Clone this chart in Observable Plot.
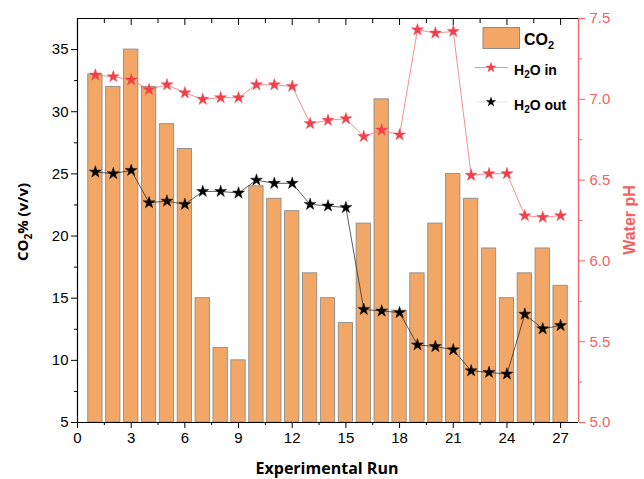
<!DOCTYPE html>
<html><head><meta charset="utf-8">
<script src="https://cdn.jsdelivr.net/npm/d3@7"></script>
<script src="https://cdn.jsdelivr.net/npm/@observablehq/plot@0.6"></script>
<style>
body{margin:0;background:#fff;}
#chart{position:relative;width:644px;height:479px;}
#chart svg{position:absolute;left:0;top:0;overflow:visible;}
</style>
</head><body><div id="chart"></div>
<script>
const runs = [1,2,3,4,5,6,7,8,9,10,11,12,13,14,15,16,17,18,19,20,21,22,23,24,25,26,27];
const co2 = [33,32,35,32,29,27,15,11,10,24,23,22,17,15,13,21,31,14,17,21,25,23,19,15,17,19,16];
const phIn = [7.15,7.14,7.12,7.06,7.09,7.04,7.00,7.01,7.01,7.09,7.09,7.08,6.85,6.87,6.88,6.77,6.81,6.78,7.43,7.41,7.42,6.53,6.54,6.54,6.28,6.27,6.28];
const phOut = [6.55,6.54,6.56,6.36,6.37,6.35,6.43,6.43,6.42,6.50,6.48,6.48,6.35,6.34,6.33,5.70,5.69,5.68,5.48,5.47,5.45,5.32,5.31,5.30,5.67,5.58,5.60];
const xTicks = [0,3,6,9,12,15,18,21,24,27];
const xMinor = [1.5,4.5,7.5,10.5,13.5,16.5,19.5,22.5,25.5];
const co2Ticks = [5,10,15,20,25,30,35];
const co2Minor = [7.5,12.5,17.5,22.5,27.5,32.5];
const phTicks = [5.0,5.5,6.0,6.5,7.0,7.5];
const phMinor = [5.25,5.75,6.25,6.75,7.25];

const W = 644, H = 479, mL = 77, mR = 66, mT = 18, mB = 57;
const BAR = "#f2a766", RED = "#f0404a", REDLINE = "#f78080", REDAXIS = "#f55f5f";
const FONT = "'Liberation Sans', Arial, sans-serif";

const bars = runs.map((r, i) => ({run: r, co2: co2[i]}));
const phData = runs.map((r, i) => ({run: r, inn: phIn[i], out: phOut[i]}));
const blank = () => "";

const common = {
  width: W, height: H, marginLeft: mL, marginRight: mR, marginTop: mT, marginBottom: mB,
  style: {fontFamily: FONT, fontSize: "15px", background: "transparent", color: "#000"}
};

const p1 = Plot.plot({
  ...common,
  x: {domain: [0, 28], label: null},
  y: {domain: [5, 37.5], label: null},
  marks: [
    Plot.rectY(bars, {x1: d => d.run - 0.4, x2: d => d.run + 0.4, y1: 5, y2: "co2", fill: BAR, stroke: "#8c8c8c", strokeWidth: 0.9}),
    Plot.ruleY([5], {stroke: "#000", strokeWidth: 1.2}),
    Plot.ruleY([37.5], {stroke: "#000", strokeWidth: 1.2}),
    Plot.ruleX([0], {stroke: "#000", strokeWidth: 1.2}),
    Plot.axisX(xTicks, {anchor: "bottom", tickSize: 6, tickPadding: 4, label: null, fontSize: 15}),
    Plot.axisX(xMinor, {anchor: "bottom", tickSize: 3, tickFormat: blank, label: null}),
    Plot.axisX(xTicks, {anchor: "top", tickSize: -6, tickFormat: blank, label: null}),
    Plot.axisX(xMinor, {anchor: "top", tickSize: -4, tickFormat: blank, label: null}),
    Plot.axisY(co2Ticks, {anchor: "left", tickSize: 6, tickPadding: 3, label: null, fontSize: 15}),
    Plot.axisY(co2Minor, {anchor: "left", tickSize: 3, tickFormat: blank, label: null})
  ]
});

const p2 = Plot.plot({
  ...common,
  x: {domain: [0, 28], label: null, axis: null},
  y: {domain: [5, 7.5], label: null},
  marks: [
    Plot.line(phData, {x: "run", y: "inn", stroke: REDLINE, strokeWidth: 0.9}),
    Plot.line(phData, {x: "run", y: "out", stroke: "#333", strokeWidth: 0.8}),
    Plot.dot(phData, {x: "run", y: "inn", symbol: "star", r: 3.8, fill: RED, stroke: RED, strokeWidth: 0.4}),
    Plot.dot(phData, {x: "run", y: "out", symbol: "star", r: 3.8, fill: "#000", stroke: "#000", strokeWidth: 0.4}),
    Plot.ruleX([28], {stroke: REDAXIS, strokeWidth: 1.2}),
    Plot.axisY(phTicks, {anchor: "right", tickSize: 6, tickPadding: 5, label: null, stroke: REDAXIS, fill: REDAXIS, fontSize: 15, tickFormat: d => d.toFixed(1)}),
    Plot.axisY(phMinor, {anchor: "right", tickSize: 3, tickFormat: blank, label: null, stroke: REDAXIS})
  ]
});

const chart = document.getElementById("chart");
chart.appendChild(p1);
chart.appendChild(p2);

// Titles and legend drawn in the top SVG
const svg = d3.select(p2);
const TITLEFONT = "'Open Sans', 'Liberation Sans', Arial, sans-serif";

// Bottom title
svg.append("text").attr("x", 327).attr("y", 474).attr("text-anchor", "middle")
  .attr("font-family", TITLEFONT).attr("font-weight", "bold").attr("font-size", 16).attr("fill", "#000")
  .text("Experimental Run");

// Left title with subscript
const lt = svg.append("text").attr("transform", "translate(28,222) rotate(-90)").attr("text-anchor", "middle")
  .attr("font-family", TITLEFONT).attr("font-weight", "bold").attr("font-size", 15).attr("fill", "#000");
lt.append("tspan").text("CO");
lt.append("tspan").attr("font-size", 10).attr("dy", 4).text("2");
lt.append("tspan").attr("dy", -4).text("% (v/v)");

// Right title
svg.append("text").attr("transform", "translate(635,220) rotate(-90)").attr("text-anchor", "middle")
  .attr("font-family", FONT).attr("font-weight", "bold").attr("font-size", 16).attr("fill", REDAXIS)
  .text("Water pH");

// Legend
const lg = svg.append("g").attr("font-family", FONT).attr("font-weight", "bold").attr("text-anchor", "start");
lg.append("rect").attr("x", 483).attr("y", 27.5).attr("width", 36.5).attr("height", 21)
  .attr("fill", BAR).attr("stroke", "#8c8c8c").attr("stroke-width", 1);
const t1 = lg.append("text").attr("x", 524).attr("y", 45).attr("font-size", 16);
t1.append("tspan").text("CO");
t1.append("tspan").attr("font-size", 11).attr("dy", 4).text("2");

lg.append("line").attr("x1", 475).attr("x2", 508).attr("y1", 67.5).attr("y2", 67.5).attr("stroke", REDLINE).attr("stroke-width", 0.9);
lg.append("path").attr("d", d3.symbol(d3.symbolStar, 40)()).attr("transform", "translate(491,67.5)").attr("fill", RED);
const t2 = lg.append("text").attr("x", 514).attr("y", 75).attr("font-size", 14);
t2.append("tspan").text("H");
t2.append("tspan").attr("font-size", 10).attr("dy", 3).text("2");
t2.append("tspan").attr("dy", -3).text("O in");

lg.append("line").attr("x1", 475).attr("x2", 508).attr("y1", 102).attr("y2", 102).attr("stroke", "#e2e2e2").attr("stroke-width", 0.8);
lg.append("path").attr("d", d3.symbol(d3.symbolStar, 34)()).attr("transform", "translate(491,102)").attr("fill", "#000");
const t3 = lg.append("text").attr("x", 514).attr("y", 110).attr("font-size", 14);
t3.append("tspan").text("H");
t3.append("tspan").attr("font-size", 10).attr("dy", 3).text("2");
t3.append("tspan").attr("dy", -3).text("O out");
</script>
</body></html>
